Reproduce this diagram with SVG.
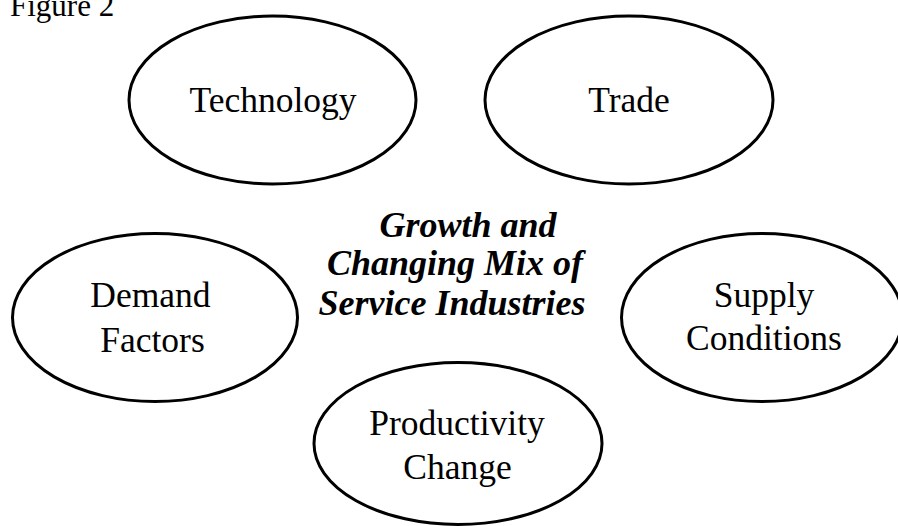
<svg xmlns="http://www.w3.org/2000/svg" width="898" height="526" viewBox="0 0 898 526">
<style>
.node ellipse{fill:#fff;stroke:#000;stroke-width:3}
.lbl{font-family:"Liberation Serif","Times New Roman",serif;font-size:35.5px;fill:#000;text-anchor:middle}
.title{font-family:"Liberation Serif","Times New Roman",serif;font-size:36px;font-weight:bold;font-style:italic;fill:#000;text-anchor:middle}
</style>
<rect width="898" height="526" fill="#fff"/>
<text x="10" y="16" style="font-family:'Liberation Serif','Times New Roman',serif;font-size:31px;fill:#000">Figure 2</text>
<g id="connectors"></g>
<g id="technology" class="node">
<ellipse cx="272.5" cy="100" rx="143.5" ry="84"/>
<text class="lbl" x="273" y="111.5">Technology</text>
</g>
<g id="trade" class="node">
<ellipse cx="629" cy="100" rx="144" ry="84"/>
<text class="lbl" x="629" y="111.5">Trade</text>
</g>
<g id="demand" class="node">
<ellipse cx="155" cy="317.5" rx="142.5" ry="84"/>
<text class="lbl" x="150.5" y="306.5">Demand</text>
<text class="lbl" x="152.5" y="351.5">Factors</text>
</g>
<g id="supply" class="node">
<ellipse cx="762" cy="317.5" rx="140.5" ry="84"/>
<text class="lbl" x="764" y="306.5">Supply</text>
<text class="lbl" x="764" y="350">Conditions</text>
</g>
<g id="productivity" class="node">
<ellipse cx="458" cy="443.5" rx="144" ry="81"/>
<text class="lbl" x="457" y="435">Productivity</text>
<text class="lbl" x="457.5" y="478.5">Change</text>
</g>
<g id="center">
<text class="title" x="468" y="236.5">Growth and</text>
<text class="title" x="455" y="275">Changing Mix of</text>
<text class="title" x="452" y="315">Service Industries</text>
</g>
</svg>
